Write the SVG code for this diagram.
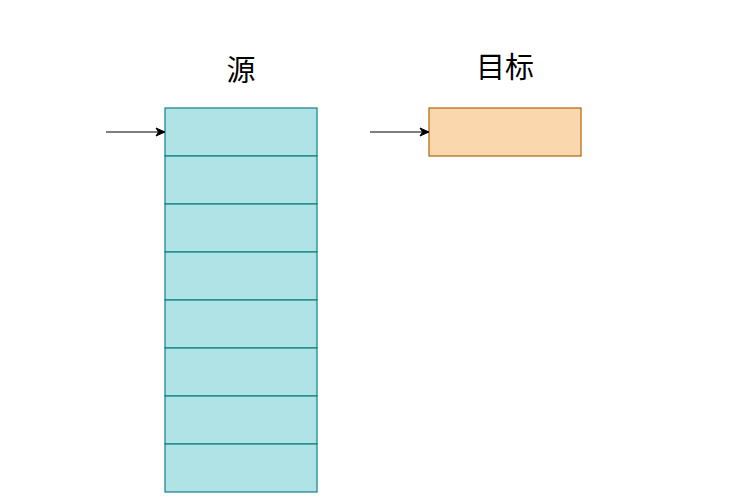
<svg xmlns="http://www.w3.org/2000/svg" width="732" height="502" viewBox="0 0 732 502">
<defs>
<marker id="arr" markerWidth="12" markerHeight="12" refX="10" refY="6" orient="auto" markerUnits="userSpaceOnUse">
<path d="M1,2 L10,6 L1,10 L3.5,6 Z" fill="#000" stroke="#000" stroke-width="1"/>
</marker>
<style>
.cell{fill:#b0e3e6;stroke:#0e8088;stroke-width:1.2}
.tgt{fill:#fad7ac;stroke:#b46504;stroke-width:1.2}
.lbl{font-family:"Noto Sans CJK SC","Liberation Sans",sans-serif;font-size:29px;fill:#000;text-anchor:middle}
.conn{stroke:#000;stroke-width:1;fill:none}
</style>
</defs>
<rect width="732" height="502" fill="#fff"/>
<g id="label-source"><text class="lbl" x="241" y="81">源</text></g>
<g id="label-target"><text class="lbl" x="505" y="78">目标</text></g>
<g id="source">
<rect class="cell" x="165" y="108" width="152" height="48"/>
<rect class="cell" x="165" y="156" width="152" height="48"/>
<rect class="cell" x="165" y="204" width="152" height="48"/>
<rect class="cell" x="165" y="252" width="152" height="48"/>
<rect class="cell" x="165" y="300" width="152" height="48"/>
<rect class="cell" x="165" y="348" width="152" height="48"/>
<rect class="cell" x="165" y="396" width="152" height="48"/>
<rect class="cell" x="165" y="444" width="152" height="48"/>
</g>
<g id="target"><rect class="tgt" x="429" y="108" width="152" height="48"/></g>
<g id="connectors">
<line class="conn" x1="106" y1="132" x2="165" y2="132" marker-end="url(#arr)"/>
<line class="conn" x1="370" y1="132" x2="429" y2="132" marker-end="url(#arr)"/>
</g>
</svg>
